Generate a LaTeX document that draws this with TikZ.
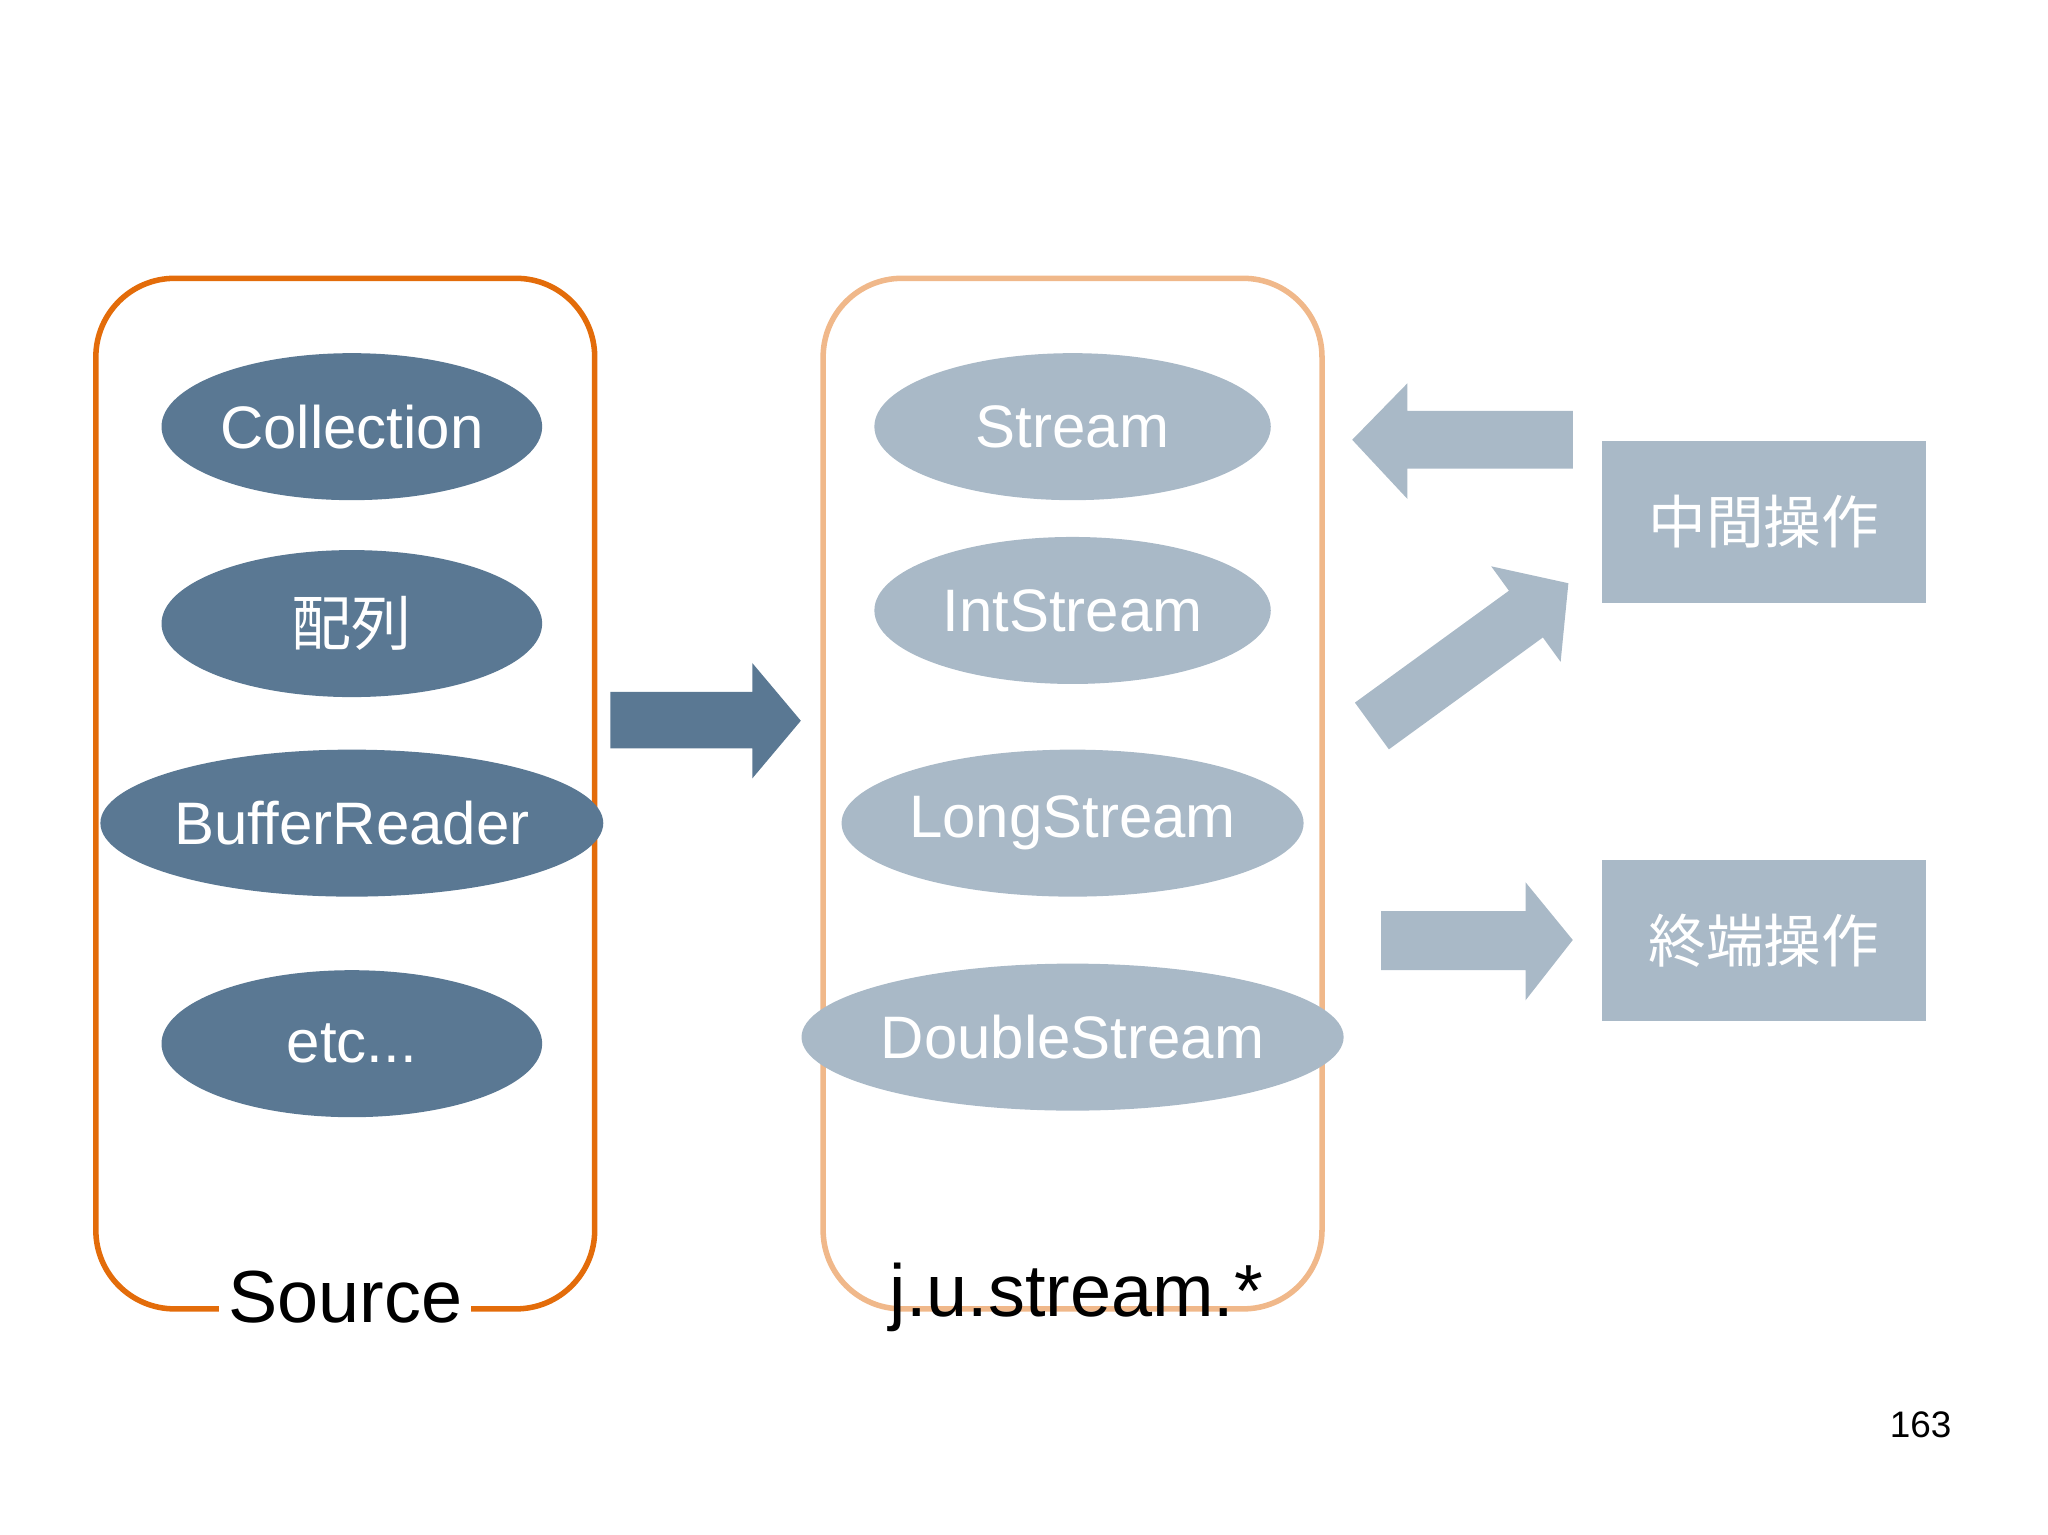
\documentclass[tikz,border=0pt]{standalone}
\usepackage{fontspec}
\setmainfont{Liberation Sans}
\newfontfamily\cjk{Noto Sans CJK JP}
\definecolor{srcorange}{HTML}{E36C0A}
\definecolor{lightorange}{HTML}{F0B88A}
\definecolor{darkblue}{HTML}{5A7893}
\definecolor{lightblue}{HTML}{A9B9C7}
\tikzset{
  frame/.style={draw,line width=2.4pt,rounded corners=1.2cm},
  dark/.style={ellipse,fill=darkblue,text=white,minimum width=5.8cm,minimum height=2.24cm,inner sep=0pt,font=\fontsize{26}{30}\selectfont},
  light/.style={ellipse,fill=lightblue,text=white,minimum width=6.04cm,minimum height=2.24cm,inner sep=0pt,font=\fontsize{26}{30}\selectfont},
  op/.style={rectangle,fill=lightblue,text=white,minimum width=4.94cm,minimum height=2.46cm,font=\cjk\fontsize{25}{30}\selectfont},
  lbl/.style={font=\fontsize{32}{36}\selectfont,text=black}
}
\usetikzlibrary{shapes.geometric}
\begin{document}
\begin{tikzpicture}[x=0.02cm,y=-0.02cm]
\useasboundingbox (0,0) rectangle (1560,1169);
% frames
\draw[frame,srcorange] (73,212) rectangle (453,997);
\draw[frame,lightorange] (627,212) rectangle (1007,997);
\node[lbl,fill=white,inner xsep=4pt] (src) at (263,988) {Source};
\node[lbl] (jus) at (820,988) {j.u.stream.*};
% sources
\node[dark] (coll) at (268,325) {Collection};
\node[dark] (arr) at (268,475) {\cjk 配列};
\node[dark] (buf) at (268,627) {BufferReader};
\node[dark] (etc) at (268,795) {etc...};
% streams
\node[light] (st) at (817,325) {Stream};
\node[light] (ist) at (817,465) {IntStream};
\node[light] (lst) at (817,627) {LongStream};
\node[light] (dst) at (817,790) {DoubleStream};
% operations
\node[op] (mid) at (1343.5,397.5) {中間操作};
\node[op] (term) at (1343.5,716.5) {終端操作};
% arrows
\fill[darkblue] (465,527) -- (573,527) -- (573,505) -- (610,549) -- (573,593) -- (573,570) -- (465,570) -- cycle;
\fill[lightblue] (1198,313) -- (1072,313) -- (1072,292) -- (1030,335) -- (1072,380) -- (1072,357) -- (1198,357) -- cycle;
\begin{scope}[shift={(1045,553)},rotate=36]
\fill[lightblue] (0,-22) -- (145,-22) -- (145,-45) -- (185,0) -- (145,45) -- (145,22) -- (0,22) -- cycle;
\end{scope}
\fill[lightblue] (1052,694) -- (1162,694) -- (1162,672) -- (1198,716) -- (1162,762) -- (1162,739) -- (1052,739) -- cycle;
\node[font=\fontsize{16}{18}\selectfont] (pg) at (1463,1085) {163};
\end{tikzpicture}
\end{document}
